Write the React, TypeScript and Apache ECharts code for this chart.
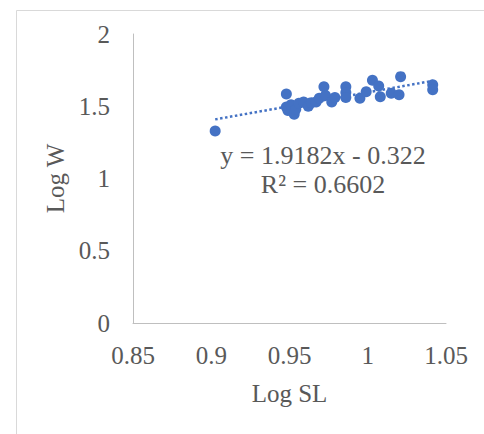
import React, { useEffect, useRef } from "react";
import * as echarts from "echarts";

const logSL: number[] = [
  0.9025, 0.948, 0.948, 0.949, 0.951, 0.953, 0.954, 0.956, 0.959, 0.962,
  0.964, 0.967, 0.969, 0.972, 0.973, 0.977, 0.979, 0.986, 0.986, 0.986,
  0.995, 0.999, 1.003, 1.007, 1.008, 1.015, 1.02, 1.021, 1.0415, 1.0415,
];
const logW: number[] = [
  1.329, 1.585, 1.495, 1.47, 1.51, 1.445, 1.48, 1.52, 1.53, 1.5,
  1.525, 1.53, 1.555, 1.635, 1.575, 1.53, 1.56, 1.635, 1.595, 1.56,
  1.555, 1.6, 1.68, 1.64, 1.565, 1.59, 1.58, 1.705, 1.648, 1.615,
];
const slope = 1.9182;
const intercept = -0.322;
const r2 = 0.6602;
const xTicks = { min: 0.85, max: 1.05, interval: 0.05 };
const yTicks = { min: 0, max: 2, interval: 0.5 };

const FONT = "'Liberation Serif', 'Times New Roman', serif";
const TEXT = "#595959";
const BLUE = "#4472C4";

export default function App() {
  const ref = useRef<HTMLDivElement>(null);
  useEffect(() => {
    if (!ref.current) return;
    const chart = echarts.init(ref.current, undefined, { renderer: "svg" });
    const pts = logSL.map((x, i) => [x, logW[i]]);
    const xMin = Math.min(...logSL);
    const xMax = Math.max(...logSL);
    const trend = [
      [xMin, slope * xMin + intercept],
      [xMax, slope * xMax + intercept],
    ];
    chart.setOption({
      animation: false,
      backgroundColor: "#ffffff",
      textStyle: { fontFamily: FONT },
      grid: { left: 133, right: 38, top: 34, bottom: 111 },
      xAxis: {
        type: "value",
        min: xTicks.min,
        max: xTicks.max,
        interval: xTicks.interval,
        name: "Log SL",
        nameLocation: "middle",
        nameGap: 58,
        nameTextStyle: { color: TEXT, fontSize: 25, fontFamily: FONT },
        axisLine: { show: true, lineStyle: { color: "#bfbfbf", width: 1 } },
        axisTick: { show: false },
        splitLine: { show: false },
        axisLabel: {
          color: TEXT,
          fontSize: 25,
          fontFamily: FONT,
          margin: 20,
          formatter: (v: number) => String(parseFloat(v.toFixed(2))),
        },
      },
      yAxis: {
        type: "value",
        min: yTicks.min,
        max: yTicks.max,
        interval: yTicks.interval,
        name: "Log W",
        nameLocation: "middle",
        nameGap: 63,
        nameTextStyle: { color: TEXT, fontSize: 25, fontFamily: FONT },
        axisLine: { show: true, lineStyle: { color: "#bfbfbf", width: 1 } },
        axisTick: { show: false },
        splitLine: { show: false },
        axisLabel: {
          color: TEXT,
          fontSize: 25,
          fontFamily: FONT,
          margin: 23,
          formatter: (v: number) => String(parseFloat(v.toFixed(2))),
        },
      },
      graphic: [
        {
          type: "rect",
          left: 14,
          top: 8,
          shape: { width: 520, height: 480 },
          style: { fill: "none", stroke: "#d9d9d9", lineWidth: 1 },
          z: -1,
          silent: true,
        },
        {
          type: "text",
          x: 323,
          y: 170,
          style: {
            text: `y = ${slope}x - ${Math.abs(intercept)}\nR² = ${r2}`,
            fill: TEXT,
            font: `26px ${FONT}`,
            align: "center",
            verticalAlign: "middle",
            lineHeight: 29,
          },
        },
      ],
      series: [
        {
          type: "line",
          data: trend,
          symbol: "none",
          lineStyle: { color: BLUE, width: 2.5, type: [2.5, 2.5] },
          z: 1,
        },
        {
          type: "scatter",
          data: pts,
          symbol: "circle",
          symbolSize: 11,
          itemStyle: { color: BLUE, opacity: 1 },
          z: 2,
        },
      ],
    });
    return () => chart.dispose();
  }, []);
  return (
    <div
      ref={ref}
      style={{ position: "fixed", left: 0, top: 0, width: 484, height: 434 }}
    />
  );
}
